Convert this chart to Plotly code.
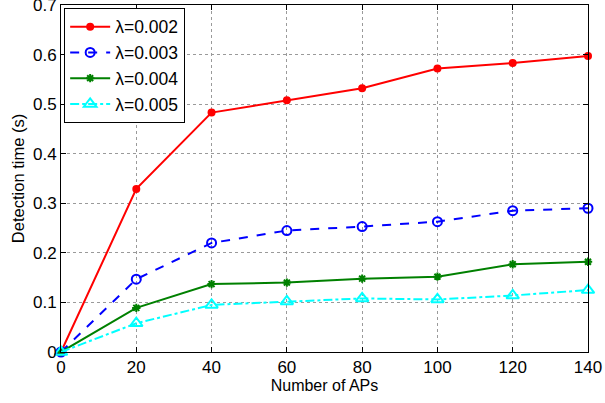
import plotly.graph_objects as go

aps = [0, 20, 40, 60, 80, 100, 120, 140]
lam_002 = [0, 0.329, 0.483, 0.508, 0.532, 0.572, 0.583, 0.597]
lam_003 = [0, 0.147, 0.220, 0.245, 0.253, 0.263, 0.285, 0.290]
lam_004 = [0, 0.089, 0.137, 0.140, 0.148, 0.152, 0.177, 0.182]
lam_005 = [0, 0.058, 0.095, 0.102, 0.108, 0.106, 0.114, 0.125]
names = ["λ=0.002", "λ=0.003", "λ=0.004", "λ=0.005"]
x_ticks = [0, 20, 40, 60, 80, 100, 120, 140]
y_ticks = [0, 0.1, 0.2, 0.3, 0.4, 0.5, 0.6, 0.7]
y_labels = ["0", "0.1", "0.2", "0.3", "0.4", "0.5", "0.6", "0.7"]

fig = go.Figure()
styles = [
    dict(color="red", dash="solid", symbol="circle", size=8, lw=0),
    dict(color="blue", dash="dash", symbol="circle-open", size=9, lw=2),
    dict(color="green", dash="solid", symbol="asterisk-open", size=7, lw=2),
    dict(color="cyan", dash="dashdot", symbol="triangle-up-open", size=11, lw=2),
]
for ys, nm, st in zip([lam_002, lam_003, lam_004, lam_005], names, styles):
    fig.add_trace(go.Scatter(
        x=aps, y=ys, name=nm, mode="lines+markers", cliponaxis=False,
        line=dict(color=st["color"], width=2, dash=st["dash"]),
        marker=dict(symbol=st["symbol"], size=st["size"], color=st["color"],
                    line=dict(color=st["color"], width=st["lw"])),
    ))

axis_common = dict(
    showline=True, linecolor="black", linewidth=1, mirror="ticks",
    ticks="inside", ticklen=5, tickcolor="black", automargin=False,
    ticklabeloverflow="allow",
    showgrid=True, gridcolor="#9a9a9a", griddash="dot", gridwidth=1,
    zeroline=False, tickfont=dict(size=17, color="black"),
)
fig.update_xaxes(range=[0, 140], tickvals=x_ticks,
                 title=dict(text="Number of APs", font=dict(size=16, color="black"), standoff=1),
                 **axis_common)
fig.update_yaxes(range=[0, 0.7], tickvals=y_ticks, ticktext=y_labels,
                 title=dict(text="Detection time (s)", font=dict(size=16.5, color="black"), standoff=4),
                 **axis_common)

fig.update_layout(
    width=605, height=403,
    margin=dict(l=61, r=17, t=5, b=51, autoexpand=False),
    paper_bgcolor="white", plot_bgcolor="white",
    font=dict(family="Liberation Sans, Arial, sans-serif", color="black"),
    showlegend=True,
    legend=dict(x=0.006, y=0.992, xanchor="left", yanchor="top",
                bgcolor="white", bordercolor="black", borderwidth=1,
                itemwidth=40,
                font=dict(size=17.5, color="black"), tracegroupgap=0),
)
fig.write_html("out.html", config={"displayModeBar": False},
               post_script="document.body.style.margin='0px';document.body.style.overflow='hidden';")
